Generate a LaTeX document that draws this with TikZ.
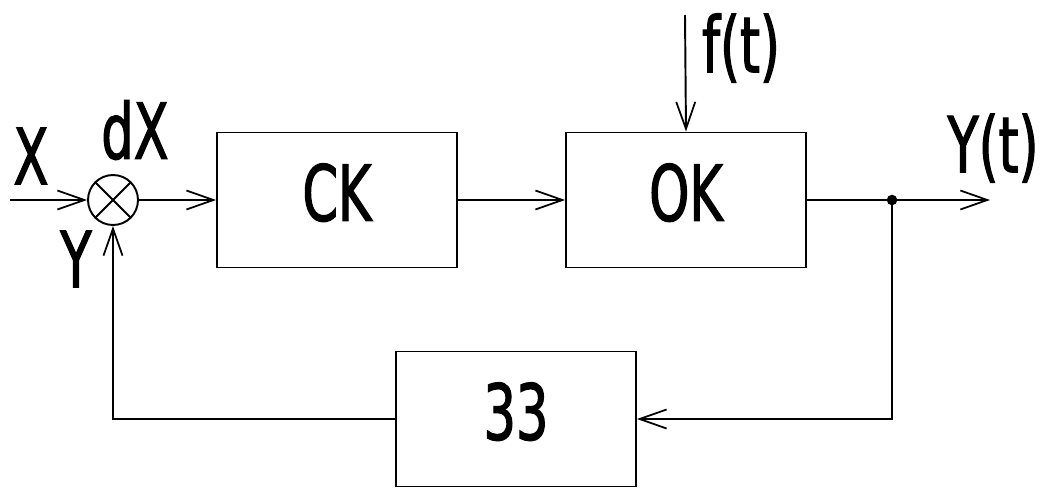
\documentclass[tikz,border=0pt]{standalone}
\usepackage{fontspec}
\setmainfont{DejaVu Sans}[FakeStretch=0.66, FakeBold=1.5]
\usetikzlibrary{arrows.meta}

\begin{document}
\begin{tikzpicture}
        [x=0.02cm, y=-0.02cm, line width=1.1pt,
         >={Straight Barb[length=5.4mm, width=3.8mm, line width=1pt]},
         block/.style={rectangle, draw, minimum width=4.8cm, minimum height=2.7cm,
                       text depth=9pt, font=\fontsize{44}{50}\selectfont},
         sig/.style={font=\fontsize{44}{50}\selectfont, inner sep=0pt},
         summer/.style={circle, draw, minimum size=1cm, inner sep=0pt}]
        \useasboundingbox (0,0) rectangle (1044,487);
        % blocks
        \node (sum) at (113, 200)[summer] {};
        \draw (sum.north west) -- (sum.south east)
              (sum.north east) -- (sum.south west);
        \node (ck)  at (337, 200)[block] {CK};
        \node (ok)  at (686, 200)[block] {OK};
        \node (zz)  at (516, 419)[block] {33};
        % free ends
        \coordinate (in)   at ( 10, 200);
        \coordinate (ftop) at (685,  15);
        \coordinate (out)  at (990, 200);
        \coordinate (tap)  at (892, 200);
        \coordinate (back) at (892, 419);
        \coordinate (turn) at (113, 419);
        % signals
        \draw [->] (in) -- (sum.west);
        \draw [->] (sum.east) -- (ck.west);
        \draw [->] (ck.east) -- (ok.west);
        \draw [->] (ftop) -- (ok.north);
        \draw [->] (ok.east) -- (out);
        \fill (tap) circle (3pt);
        \draw [->] (tap) -- (back) -- (zz.east);
        \draw [->] (zz.west) -- (turn) -- (sum.south);
        % labels
        \node (lx)  at ( 31, 156)[sig] {X};
        \node (ldx) at (135, 130)[sig] {dX};
        \node (ly)  at ( 76, 259)[sig] {Y};
        \node (lf)  at (741,  48)[sig] {f(t)};
        \node (lyt) at (993, 148)[sig] {Y(t)};
    \end{tikzpicture}
\end{document}
